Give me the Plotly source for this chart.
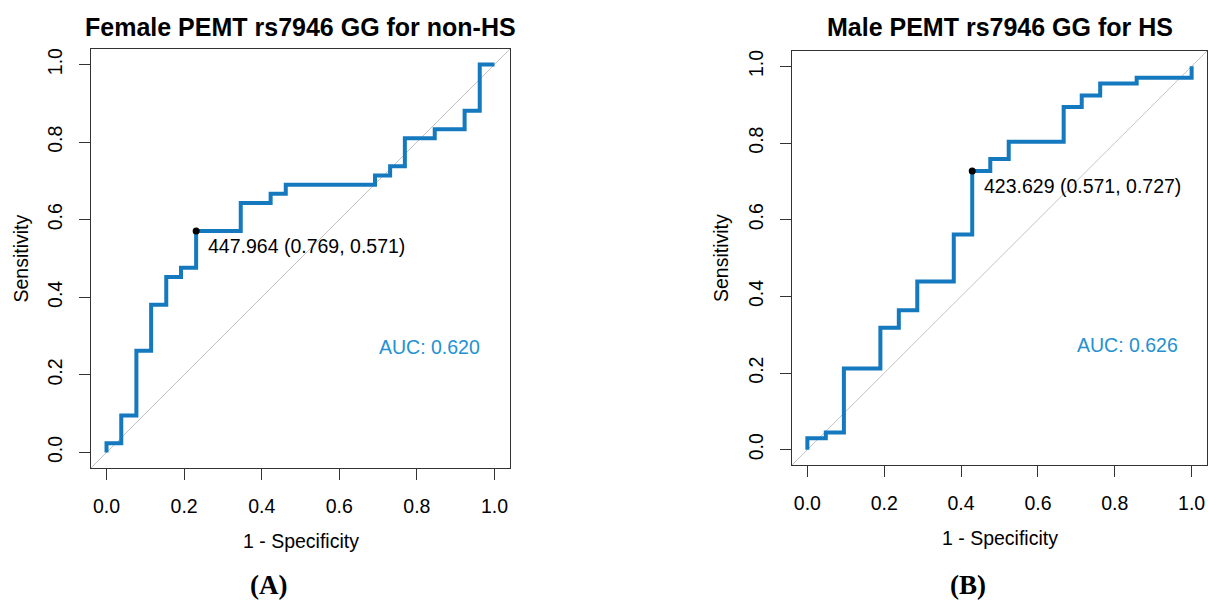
import plotly.graph_objects as go

# ---------------- data ----------------
# Panel A: Female PEMT rs7946 GG for non-HS (ROC vertices)
female_fpr = [0, 0, 0.038, 0.038, 0.077, 0.077, 0.115, 0.115, 0.154, 0.154, 0.192, 0.192,
              0.231, 0.231, 0.346, 0.346, 0.423, 0.423, 0.462, 0.462, 0.692, 0.692, 0.731, 0.731,
              0.769, 0.769, 0.846, 0.846, 0.923, 0.923, 0.962, 0.962, 1.0]
female_tpr = [0, 0.024, 0.024, 0.095, 0.095, 0.262, 0.262, 0.381, 0.381, 0.452, 0.452, 0.476,
              0.476, 0.571, 0.571, 0.643, 0.643, 0.667, 0.667, 0.690, 0.690, 0.714, 0.714, 0.738,
              0.738, 0.810, 0.810, 0.833, 0.833, 0.881, 0.881, 1.0, 1.0]
female_best = {"threshold": "447.964", "spec": 0.769, "sens": 0.571}
female_auc = "0.620"

# Panel B: Male PEMT rs7946 GG for HS (ROC vertices)
male_fpr = [0, 0, 0.048, 0.048, 0.095, 0.095, 0.190, 0.190, 0.238, 0.238, 0.286, 0.286,
            0.381, 0.381, 0.429, 0.429, 0.476, 0.476, 0.524, 0.524, 0.667, 0.667, 0.714, 0.714,
            0.762, 0.762, 0.857, 0.857, 1.0, 1.0]
male_tpr = [0, 0.030, 0.030, 0.045, 0.045, 0.212, 0.212, 0.318, 0.318, 0.364, 0.364, 0.439,
            0.439, 0.561, 0.561, 0.727, 0.727, 0.758, 0.758, 0.803, 0.803, 0.894, 0.894, 0.924,
            0.924, 0.955, 0.955, 0.970, 0.970, 1.0]
male_best = {"threshold": "423.629", "spec": 0.571, "sens": 0.727}
male_auc = "0.626"

titles = ["Female PEMT rs7946 GG for non-HS", "Male PEMT rs7946 GG for HS"]
panel_labels = ["(A)", "(B)"]
tick_vals = [0.0, 0.2, 0.4, 0.6, 0.8, 1.0]
tick_text = ["0.0", "0.2", "0.4", "0.6", "0.8", "1.0"]

# ---------------- style ----------------
W, H = 1208, 601
FONT = "Liberation Sans, Arial, sans-serif"
LINE_BLUE = "#1479BE"
AUC_BLUE = "#2391D2"
FS = 19.5

fig = go.Figure()

panels = [
    dict(fpr=female_fpr, tpr=female_tpr, best=female_best, auc=female_auc,
         xa="x", ya="y", xdom=[91, 510], ydom=[49, 468]),
    dict(fpr=male_fpr, tpr=male_tpr, best=male_best, auc=male_auc,
         xa="x2", ya="y2", xdom=[792, 1207], ydom=[51, 465]),
]

annotations = []
for i, p in enumerate(panels):
    # diagonal reference
    fig.add_trace(go.Scatter(x=[-0.04, 1.04], y=[-0.04, 1.04], mode="lines",
                             line=dict(color="#C4C4C4", width=1),
                             xaxis=p["xa"], yaxis=p["ya"], showlegend=False, hoverinfo="skip"))
    # ROC curve
    fig.add_trace(go.Scatter(x=p["fpr"], y=p["tpr"], mode="lines",
                             line=dict(color=LINE_BLUE, width=4),
                             xaxis=p["xa"], yaxis=p["ya"], showlegend=False))
    # best threshold point
    bx = 1 - p["best"]["spec"]
    by = p["best"]["sens"]
    fig.add_trace(go.Scatter(x=[bx], y=[by], mode="markers",
                             marker=dict(color="black", size=7),
                             xaxis=p["xa"], yaxis=p["ya"], showlegend=False))
    annotations.append(dict(x=bx, y=by, xref=p["xa"], yref=p["ya"],
                            text=f'{p["best"]["threshold"]} ({p["best"]["spec"]:.3f}, {p["best"]["sens"]:.3f})',
                            showarrow=False, xanchor="left", yanchor="middle",
                            xshift=10, yshift=-15,
                            font=dict(family=FONT, size=FS, color="black")))
    annotations.append(dict(x=0.832, y=0.272, xref=p["xa"], yref=p["ya"],
                            text=f'AUC: {p["auc"]}', showarrow=False,
                            xanchor="center", yanchor="middle",
                            font=dict(family=FONT, size=FS, color=AUC_BLUE)))

    x0, x1 = p["xdom"]
    y0, y1 = p["ydom"]
    cx = (x0 + x1) / 2
    cy = (y0 + y1) / 2
    # title
    annotations.append(dict(x=cx / W, y=1 - 27 / H, xref="paper", yref="paper",
                            text=f"<b>{titles[i]}</b>", showarrow=False,
                            xanchor="center", yanchor="middle",
                            font=dict(family=FONT, size=25, color="black")))
    # x axis title
    annotations.append(dict(x=cx / W, y=1 - (y1 + 73) / H, xref="paper", yref="paper",
                            text="1 - Specificity", showarrow=False,
                            xanchor="center", yanchor="middle",
                            font=dict(family=FONT, size=FS, color="black")))
    # y axis title
    annotations.append(dict(x=(x0 - 71) / W, y=1 - cy / H, xref="paper", yref="paper",
                            text="Sensitivity", showarrow=False, textangle=-90,
                            xanchor="center", yanchor="middle",
                            font=dict(family=FONT, size=FS, color="black")))
    # panel label
    annotations.append(dict(x=(cx - 32) / W, y=1 - 585 / H,
                            xref="paper", yref="paper",
                            text=f"<b>{panel_labels[i]}</b>", showarrow=False,
                            xanchor="center", yanchor="middle",
                            font=dict(family="Liberation Serif, Times New Roman, serif",
                                      size=27, color="black")))

axis_common = dict(range=[-0.04, 1.04], showgrid=False, zeroline=False,
                   showline=True, mirror=True, linecolor="#333333", linewidth=1.3,
                   ticks="outside", ticklen=11, tickwidth=1, tickcolor="#333333",
                   tickvals=tick_vals, ticktext=tick_text,
                   tickfont=dict(family=FONT, size=FS, color="black"),
                   fixedrange=True)

layout_axes = {}
for i, p in enumerate(panels):
    sfx = "" if i == 0 else "2"
    x0, x1 = p["xdom"]
    y0, y1 = p["ydom"]
    layout_axes["xaxis" + sfx] = dict(axis_common, domain=[x0 / W, x1 / W],
                                      anchor="y" + sfx, ticklabelstandoff=9)
    layout_axes["yaxis" + sfx] = dict(axis_common, domain=[1 - y1 / H, 1 - y0 / H],
                                      anchor="x" + sfx, tickangle=-90, ticklabelstandoff=9)

fig.update_layout(width=W, height=H, margin=dict(l=0, r=0, t=0, b=0),
                  paper_bgcolor="white", plot_bgcolor="white",
                  annotations=annotations, **layout_axes)

fig.write_html("out.html")
